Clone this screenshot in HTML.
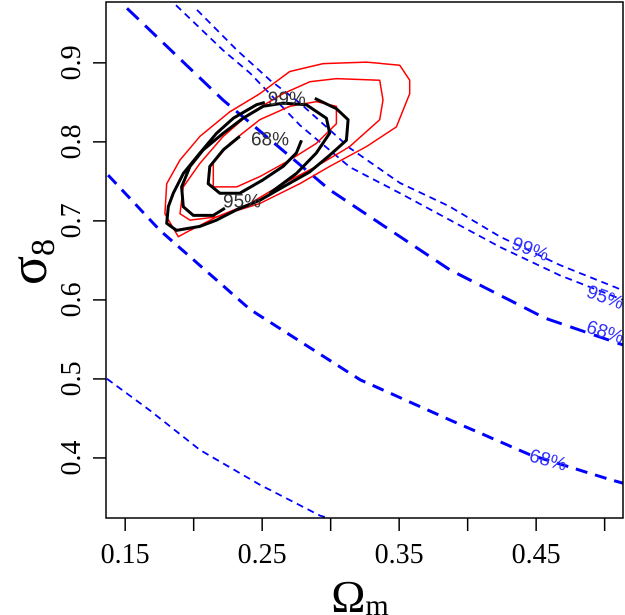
<!DOCTYPE html>
<html><head><meta charset="utf-8"><style>
html,body{margin:0;padding:0;background:#fff;}
svg{display:block;}
</style></head><body>
<svg id="chart" width="625" height="615" viewBox="0 0 625 615" xmlns="http://www.w3.org/2000/svg">
<defs><clipPath id="clip"><rect x="106" y="2" width="517" height="516"/></clipPath></defs>
<rect x="106" y="2" width="517" height="516" fill="#fff"/>
<g id="marks" clip-path="url(#clip)"></g>
<rect x="106" y="2" width="517" height="516" fill="none" stroke="#000" stroke-width="1.5"/>
<g id="axes"></g>
<text x="360" y="612" font-family="Liberation Serif, serif" font-size="46" text-anchor="middle">Ω<tspan font-size="30" dy="3">m</tspan></text>
<text transform="translate(46,262) rotate(-90)" font-family="Liberation Serif, serif" font-size="54" text-anchor="middle">σ<tspan font-size="34" dy="8">8</tspan></text>
</svg>
<script>
const xTicks=[0.15,0.2,0.25,0.3,0.35,0.4,0.45,0.5];
const xTickLabels=["0.15","","0.25","","0.35","","0.45",""];
const yTicks=[0.4,0.5,0.6,0.7,0.8,0.9];
const yTickLabels=["0.4","0.5","0.6","0.7","0.8","0.9"];

const blue68UpperX=[0.1513,0.2214,0.2995,0.3871,0.4564,0.5134];
const blue68UpperY=[0.969,0.853,0.739,0.638,0.577,0.543];
const blue68LowerX=[0.1375,0.1754,0.2411,0.3214,0.3871,0.4455,0.5053,0.52];
const blue68LowerY=[0.758,0.688,0.588,0.499,0.448,0.404,0.372,0.365];
const blue95X=[0.1871,0.2214,0.2411,0.2776,0.3141,0.3506,0.3871,0.4236,0.4674,0.5134];
const blue95Y=[0.973,0.916,0.887,0.821,0.768,0.735,0.701,0.667,0.631,0.600];
const blue99X=[0.2024,0.2316,0.2557,0.2776,0.3141,0.3506,0.3871,0.4236,0.4674,0.5134];
const blue99Y=[0.967,0.916,0.878,0.849,0.792,0.748,0.718,0.680,0.644,0.612];
const blue99LowX=[0.130,0.136,0.1681,0.2046,0.2484,0.2922,0.31];
const blue99LowY=[0.51,0.501,0.460,0.410,0.366,0.327,0.318];

const red99X=[0.1888,0.1790,0.1803,0.1900,0.2046,0.2264,0.2483,0.2702,0.2945,0.3261,0.3504,0.3577,0.3577,0.3480,0.3261,0.2993,0.2775,0.2483,0.2167,0.1973];
const red99Y=[0.680,0.709,0.747,0.777,0.807,0.838,0.861,0.889,0.899,0.901,0.897,0.878,0.861,0.819,0.794,0.769,0.747,0.722,0.705,0.688];
const red95X=[0.1900,0.1924,0.2046,0.2216,0.2410,0.2653,0.2847,0.3042,0.3358,0.3382,0.3358,0.3139,0.2896,0.2653,0.2410,0.2167,0.1973];
const red95Y=[0.709,0.743,0.773,0.807,0.836,0.861,0.876,0.880,0.878,0.853,0.828,0.794,0.769,0.747,0.722,0.705,0.701];
const red68X=[0.2143,0.2143,0.2264,0.2483,0.2702,0.2896,0.3042,0.3042,0.2896,0.2702,0.2483,0.2313];
const red68Y=[0.743,0.773,0.798,0.828,0.845,0.851,0.845,0.823,0.798,0.777,0.756,0.743];

const black99X=[0.2884,0.3042,0.3127,0.3115,0.2993,0.2847,0.2653,0.2483,0.2313,0.2167,0.2046,0.1875,0.1803,0.1815,0.1851,0.1924,0.2046,0.2167,0.2289,0.2459,0.2519];
const black99Y=[0.855,0.842,0.828,0.802,0.783,0.762,0.743,0.726,0.714,0.701,0.693,0.688,0.697,0.718,0.735,0.760,0.786,0.811,0.830,0.847,0.850];
const black95X=[0.2556,0.2750,0.2896,0.2993,0.2969,0.2823,0.2653,0.2507,0.2361,0.2216,0.2070,0.1973,0.1912,0.1924,0.1997,0.2143,0.2228];
const black95Y=[0.735,0.760,0.786,0.811,0.830,0.847,0.849,0.845,0.830,0.811,0.790,0.769,0.743,0.718,0.707,0.707,0.716];
const black68X=[0.2337,0.2216,0.2118,0.2106,0.2191,0.2337,0.2507,0.2653,0.2750,0.2787];
const black68Y=[0.807,0.790,0.769,0.747,0.735,0.735,0.752,0.769,0.786,0.802];

const labelText=["99%","68%","95%","99%","95%","68%","68%"];
const labelX=[0.268,0.2557,0.2353,0.4455,0.5002,0.5002,0.4586];
const labelY=[0.853,0.802,0.723,0.663,0.602,0.558,0.396];

const NS="http://www.w3.org/2000/svg";
const X0=0.136,X1=0.5134,PX0=106,PX1=623;
const Y0=0.324,Y1=0.977,PY0=518,PY1=2;
function sx(v){return PX0+(v-X0)/(X1-X0)*(PX1-PX0);}
function sy(v){return PY0-(v-Y0)/(Y1-Y0)*(PY0-PY1);}
const marks=document.getElementById('marks');
const axes=document.getElementById('axes');

function line(xs,ys,closed,color,w,dash,name){
  const el=document.createElementNS(NS,closed?'polygon':'polyline');
  el.setAttribute('points',xs.map((x,i)=>sx(x).toFixed(1)+','+sy(ys[i]).toFixed(1)).join(' '));
  el.setAttribute('fill','none');el.setAttribute('stroke',color);
  el.setAttribute('stroke-width',w);el.setAttribute('stroke-linejoin','round');
  if(dash)el.setAttribute('stroke-dasharray',dash);
  
  
  marks.appendChild(el);
}
line(blue68UpperX,blue68UpperY,false,'#0000ff',3,'16 9','blue-68-upper-contour');
line(blue68LowerX,blue68LowerY,false,'#0000ff',3,'12 8','blue-68-lower-contour');
line(blue95X,blue95Y,false,'#0000ff',1.8,'7 5','blue-95-contour');
line(blue99X,blue99Y,false,'#0000ff',1.8,'7 5','blue-99-contour');
line(blue99LowX,blue99LowY,false,'#0000ff',1.8,'7 5','blue-99-lower-contour');
line(red99X,red99Y,true,'#ff0000',1.5,null,'red-99-contour');
line(red95X,red95Y,true,'#ff0000',1.5,null,'red-95-contour');
line(red68X,red68Y,true,'#ff0000',1.5,null,'red-68-contour');
line(black99X,black99Y,false,'#000',3,null,'black-99-contour');
line(black95X,black95Y,false,'#000',3,null,'black-95-contour');
line(black68X,black68Y,false,'#000',3,null,'black-68-contour');

const rots=[0,0,0,20,20,18,15];
labelText.forEach((t,i)=>{
  const el=document.createElementNS(NS,'text');
  const x=sx(labelX[i]),y=sy(labelY[i]);
  el.setAttribute('x',x);el.setAttribute('y',y);
  el.setAttribute('text-anchor','middle');el.setAttribute('dominant-baseline','middle');
  el.setAttribute('font-family','Liberation Sans, sans-serif');el.setAttribute('font-size','19');
  el.setAttribute('fill',i<3?'#333':'#3333ff');
  if(rots[i])el.setAttribute('transform','rotate('+rots[i]+' '+x+' '+y+')');
  el.textContent=t;
  
  
  marks.appendChild(el);
});

xTicks.forEach((v,i)=>{
  const t=document.createElementNS(NS,'line');
  t.setAttribute('x1',sx(v));t.setAttribute('x2',sx(v));
  t.setAttribute('y1',518);t.setAttribute('y2',531);
  t.setAttribute('stroke','#000');t.setAttribute('stroke-width','1.5');
  
  
  axes.appendChild(t);
  if(xTickLabels[i]){
    const l=document.createElementNS(NS,'text');
    l.setAttribute('x',sx(v));l.setAttribute('y',563);
    l.setAttribute('text-anchor','middle');
    l.setAttribute('font-family','Liberation Serif, serif');l.setAttribute('font-size','28');
    l.textContent=xTickLabels[i];
    
    
    axes.appendChild(l);
  }
});
yTicks.forEach((v,i)=>{
  const t=document.createElementNS(NS,'line');
  t.setAttribute('x1',93);t.setAttribute('x2',106);
  t.setAttribute('y1',sy(v));t.setAttribute('y2',sy(v));
  t.setAttribute('stroke','#000');t.setAttribute('stroke-width','1.5');
  
  
  axes.appendChild(t);
  const l=document.createElementNS(NS,'text');
  const yy=sy(v);
  l.setAttribute('transform','translate(80,'+yy+') rotate(-90)');
  l.setAttribute('text-anchor','middle');
  l.setAttribute('font-family','Liberation Serif, serif');l.setAttribute('font-size','28');
  l.textContent=yTickLabels[i];
  
  
  axes.appendChild(l);
});
</script>
</body></html>
